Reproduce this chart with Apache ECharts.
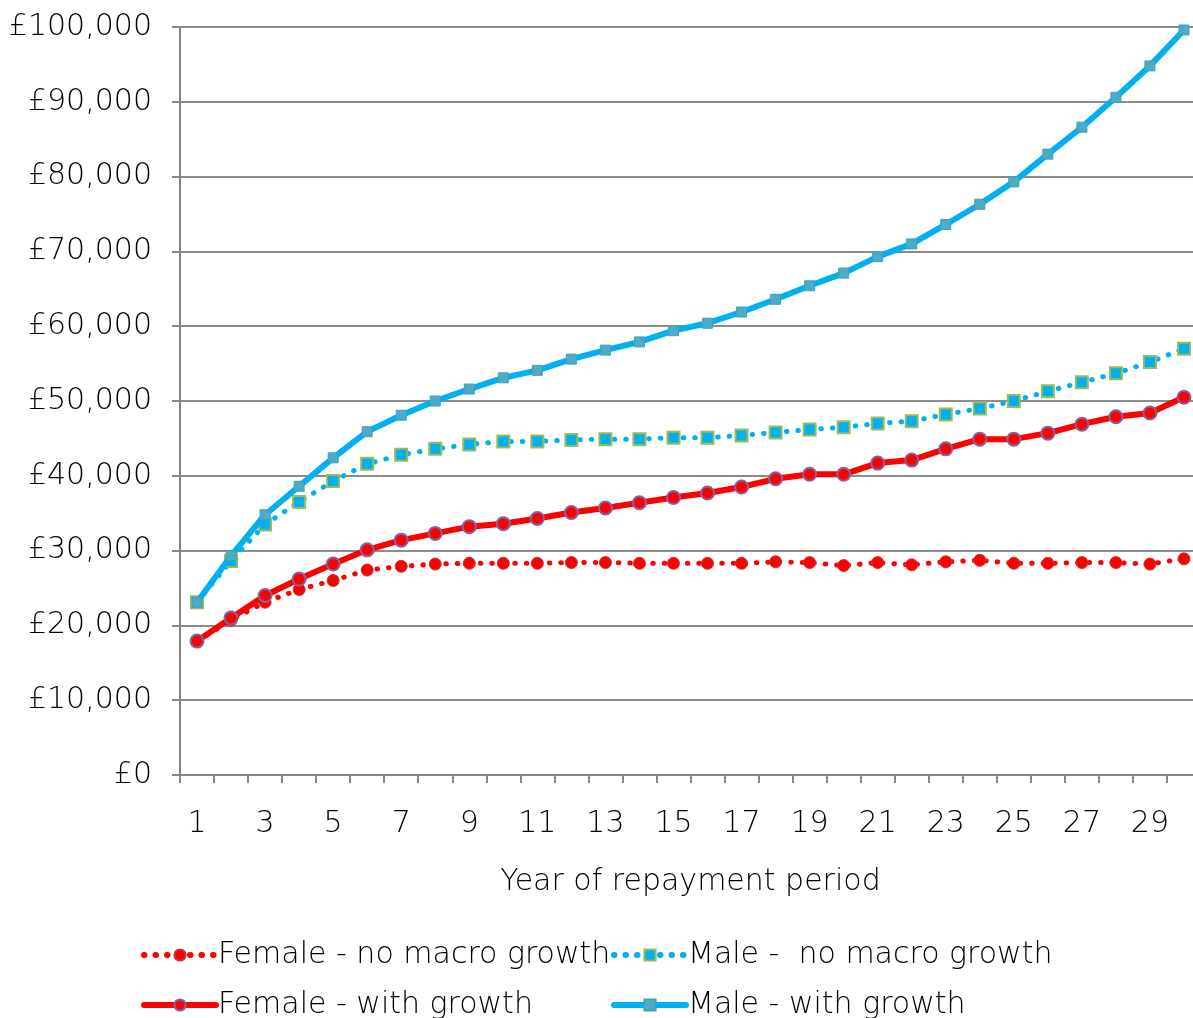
<!DOCTYPE html>
<html>
<head>
<meta charset="utf-8">
<script src="https://cdn.jsdelivr.net/npm/echarts@6/dist/echarts.min.js"></script>
<style>
  html, body { margin: 0; padding: 0; background: #fff; }
  #main { width: 1193px; height: 1018px; }
</style>
</head>
<body>
<div id="main"></div>
<script>
// 年份（还款期）
const years = [];
for (let i = 1; i <= 30; i++) years.push(String(i));

// 数据
const femaleNoGrowth = [17900, 20700, 23100, 24800, 26000, 27400, 27900, 28200, 28300, 28300,
  28300, 28400, 28400, 28300, 28300, 28300, 28300, 28500, 28400, 28000,
  28400, 28100, 28500, 28700, 28300, 28300, 28400, 28400, 28200, 28900];
const maleNoGrowth = [23100, 28600, 33500, 36500, 39300, 41600, 42800, 43600, 44200, 44600,
  44600, 44800, 44900, 44900, 45100, 45100, 45400, 45800, 46200, 46500,
  47000, 47300, 48200, 49000, 50000, 51300, 52500, 53700, 55200, 57000];
const femaleWithGrowth = [17900, 21000, 24000, 26200, 28200, 30100, 31400, 32300, 33200, 33600,
  34300, 35100, 35700, 36400, 37100, 37700, 38500, 39600, 40200, 40200,
  41700, 42100, 43600, 44900, 44900, 45700, 46900, 47900, 48400, 50500];
const maleWithGrowth = [23100, 29300, 34800, 38600, 42400, 45900, 48100, 50000, 51600, 53100,
  54100, 55600, 56800, 57900, 59400, 60400, 61900, 63600, 65400, 67100,
  69300, 71000, 73600, 76300, 79300, 83000, 86600, 90600, 94800, 99600];

const seriesNames = ['Female - no macro growth', 'Male -  no macro growth',
  'Female - with growth', 'Male - with growth'];

const FONT = 'DejaVu Sans';
const textStyle = { fontFamily: FONT, fontSize: 30, fontWeight: 200, color: '#000' };

const dotted = [0.5, 11];

var myChart = echarts.init(document.getElementById('main'));

// 每个图例单独放置，对齐两列
function legendAt(name, left, top, lineType) {
  return {
    data: [name],
    left: left,
    top: top,
    itemWidth: 72,
    itemHeight: 14,
    itemGap: 0,
    textStyle: Object.assign({}, textStyle, { padding: [0, 0, 0, -3] }),
    lineStyle: { width: 6, type: lineType, cap: 'round' },
    selectedMode: false
  };
}

var option = {
  animation: false,
  backgroundColor: '#fff',
  grid: { left: 180, right: -8, top: 27, bottom: 243, containLabel: false, outerBoundsMode: 'none' },
  legend: [
    legendAt(seriesNames[0], 136, 935, dotted),
    legendAt(seriesNames[1], 606, 935, dotted),
    legendAt(seriesNames[2], 136, 985, 'solid'),
    legendAt(seriesNames[3], 606, 985, 'solid')
  ],
  xAxis: {
    type: 'category',
    data: years,
    boundaryGap: true,
    name: 'Year of repayment period',
    nameLocation: 'middle',
    nameGap: 92,
    nameTextStyle: textStyle,
    axisLine: { lineStyle: { color: '#868686', width: 2 } },
    axisTick: { show: true, interval: 0, length: 8, lineStyle: { color: '#868686', width: 2 } },
    axisLabel: Object.assign({}, textStyle, { interval: 1, margin: 34 }),
    splitLine: { show: false }
  },
  yAxis: {
    type: 'value',
    min: 0,
    max: 100000,
    interval: 10000,
    axisLine: { show: true, lineStyle: { color: '#868686', width: 2 } },
    axisTick: { show: true, length: 8, lineStyle: { color: '#868686', width: 2 } },
    axisLabel: Object.assign({}, textStyle, {
      margin: 28,
      formatter: function (v) { return '£' + v.toLocaleString('en-GB'); }
    }),
    splitLine: { show: true, lineStyle: { color: '#8c8c8c', width: 2 } }
  },
  series: [
    {
      name: seriesNames[0],
      type: 'line',
      data: femaleNoGrowth,
      symbol: 'circle',
      symbolSize: 12,
      itemStyle: { color: '#FF0000', borderColor: '#D03030', borderWidth: 1 },
      lineStyle: { color: '#FF0000', width: 5, type: dotted, cap: 'round' },
      z: 2
    },
    {
      name: seriesNames[1],
      type: 'line',
      data: maleNoGrowth,
      symbol: 'rect',
      symbolSize: 12,
      itemStyle: { color: '#00B0F0', borderColor: '#9BBB59', borderWidth: 2 },
      lineStyle: { color: '#00B0F0', width: 5, type: dotted, cap: 'round' },
      z: 3
    },
    {
      name: seriesNames[2],
      type: 'line',
      data: femaleWithGrowth,
      symbol: 'circle',
      symbolSize: 13,
      itemStyle: { color: '#FF0000', borderColor: '#8064A2', borderWidth: 2 },
      lineStyle: { color: '#FF0000', width: 6 },
      z: 4
    },
    {
      name: seriesNames[3],
      type: 'line',
      data: maleWithGrowth,
      symbol: 'rect',
      symbolSize: 10,
      itemStyle: { color: '#4BACC6', borderColor: '#3FA0C0', borderWidth: 1 },
      lineStyle: { color: '#00B0F0', width: 6 },
      z: 5
    }
  ]
};
myChart.setOption(option);
</script>
</body>
</html>
